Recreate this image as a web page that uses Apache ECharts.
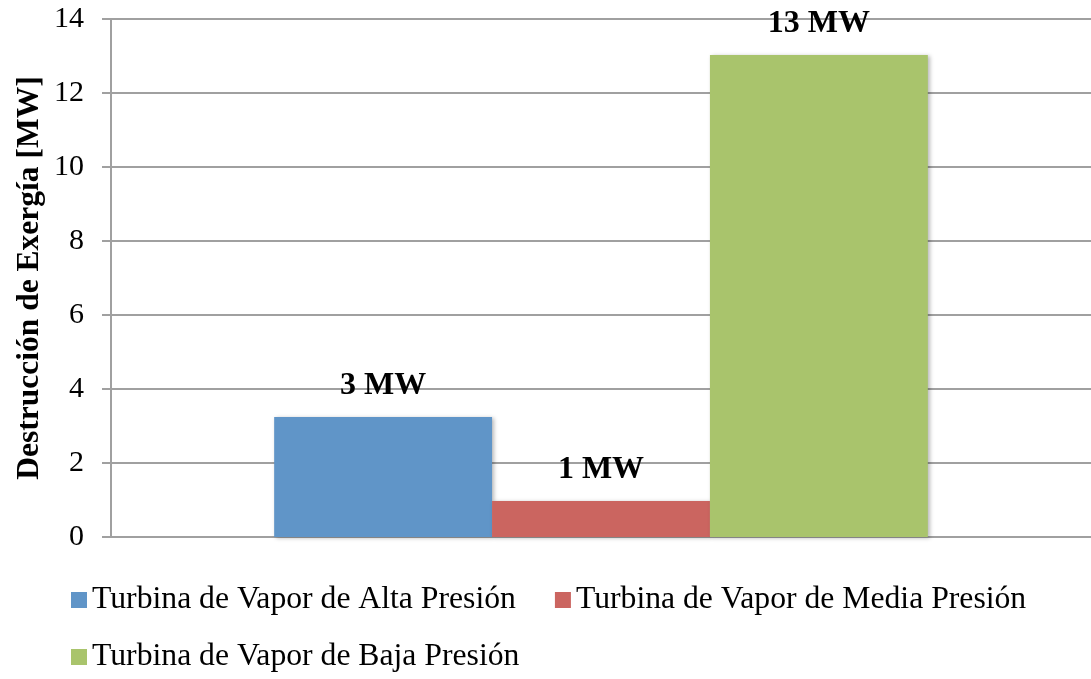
<!DOCTYPE html>
<html>
<head>
<meta charset="utf-8">
<script src="https://cdn.jsdelivr.net/npm/echarts@6/dist/echarts.min.js"></script>
<style>
  html, body { margin: 0; padding: 0; background: #fff; }
  #chart { width: 1091px; height: 679px; }
</style>
</head>
<body>
<div id="chart"></div>
<script>
// Exergy destruction per steam turbine stage [MW]
const categories = ['Turbinas'];
const seriesNames = [
  'Turbina de Vapor de Alta Presión',
  'Turbina de Vapor de Media Presión',
  'Turbina de Vapor de Baja Presión'
];
const seriesValues = [3.24, 0.97, 13.03];
const seriesColors = ['#6095C8', '#CB6560', '#A9C46C'];
const yTicks = { min: 0, max: 14, interval: 2 };

const FONT = '"Liberation Serif", "Times New Roman", serif';

const chart = echarts.init(document.getElementById('chart'));

const series = seriesNames.map((name, i) => ({
  name: name,
  type: 'bar',
  data: [seriesValues[i]],
  barGap: '0%',
  barCategoryGap: '33.3%',
  itemStyle: {
    color: seriesColors[i],
    shadowColor: 'rgba(0,0,0,0.28)',
    shadowBlur: 4,
    shadowOffsetX: 2,
    shadowOffsetY: 1
  },
  label: {
    show: true,
    position: 'top',
    distance: 15,
    fontFamily: FONT,
    fontWeight: 'bold',
    fontSize: 32,
    color: '#000',
    formatter: p => Math.round(p.value) + ' MW'
  }
}));

const legendText = { fontFamily: FONT, fontSize: 31.7, color: '#000' };

chart.setOption({
  animation: false,
  backgroundColor: '#fff',
  grid: {
    left: 111, right: 0, top: 19, bottom: 142,
    containLabel: false,
    outerBoundsMode: 'none'
  },
  legend: [
    {
      data: seriesNames.slice(0, 2),
      left: 71, top: 584, padding: 0,
      itemWidth: 16, itemHeight: 16, itemGap: 39,
      icon: 'rect',
      textStyle: legendText,
      selectedMode: false
    },
    {
      data: seriesNames.slice(2),
      left: 71, top: 641, padding: 0,
      itemWidth: 16, itemHeight: 16, itemGap: 39,
      icon: 'rect',
      textStyle: legendText,
      selectedMode: false
    }
  ],
  xAxis: {
    type: 'category',
    data: categories,
    axisLine: { show: true, lineStyle: { color: '#a0a0a0', width: 2 } },
    axisTick: { show: false },
    axisLabel: { show: false },
    splitLine: { show: false }
  },
  yAxis: {
    type: 'value',
    min: yTicks.min,
    max: yTicks.max,
    interval: yTicks.interval,
    name: 'Destrucción de Exergía [MW]',
    nameLocation: 'middle',
    nameGap: 65,
    nameMoveOverlap: false,
    nameRotate: 90,
    nameTextStyle: { fontFamily: FONT, fontWeight: 'bold', fontSize: 31.5, color: '#000' },
    axisLine: { show: true, lineStyle: { color: '#a0a0a0', width: 2 } },
    axisTick: { show: true, length: 9, lineStyle: { color: '#a0a0a0', width: 2 } },
    axisLabel: { fontFamily: FONT, fontSize: 30, color: '#000', margin: 27 },
    splitLine: { show: true, lineStyle: { color: '#a0a0a0', width: 2 } }
  },
  series: series
});
</script>
</body>
</html>
